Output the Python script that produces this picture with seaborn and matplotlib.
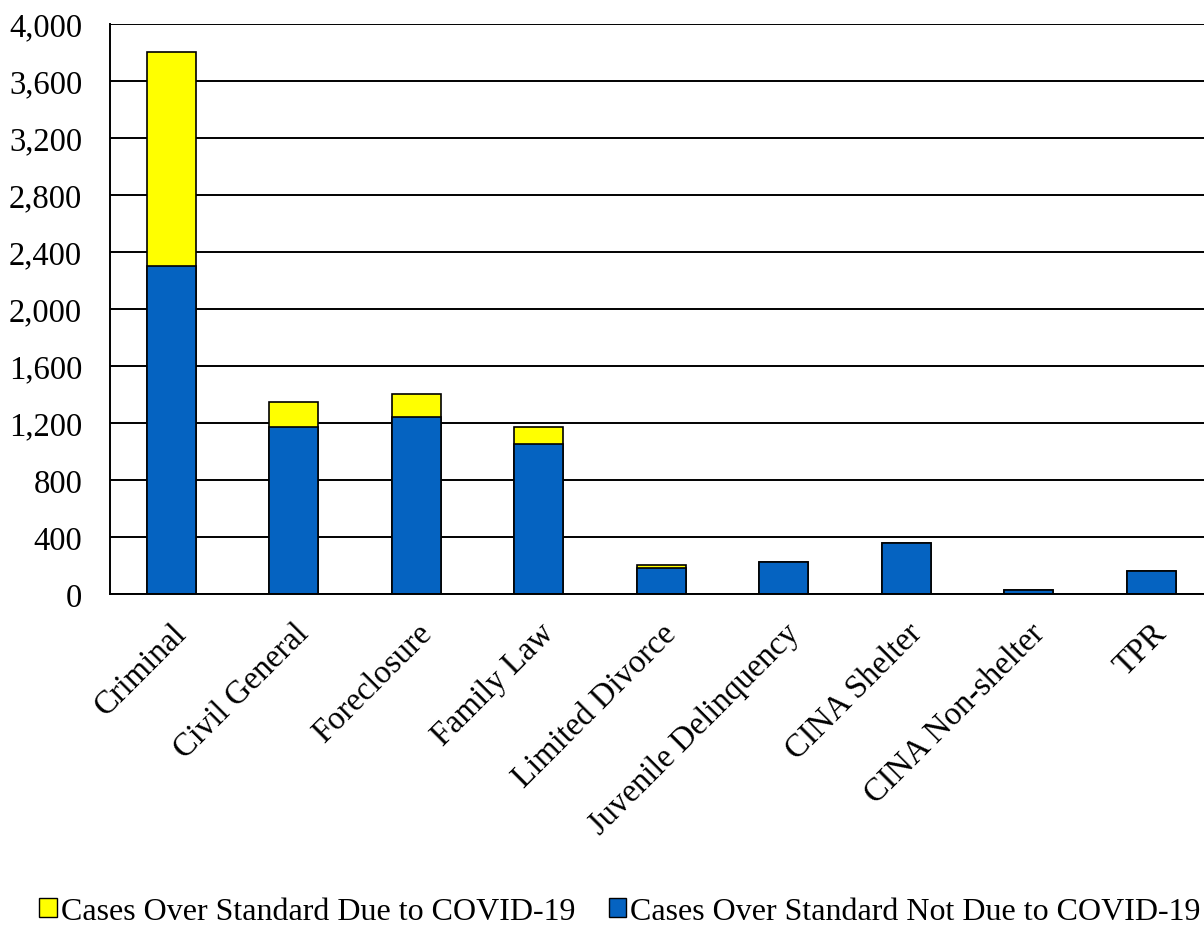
import matplotlib
matplotlib.use("Agg")
import matplotlib.pyplot as plt
from matplotlib.patches import Patch
from matplotlib.ticker import FuncFormatter, MultipleLocator
import pandas as pd
import seaborn as sns

categories = ["Criminal", "Civil General", "Foreclosure", "Family Law",
              "Limited Divorce", "Juvenile Delinquency", "CINA Shelter",
              "CINA Non-shelter", "TPR"]
not_due_covid = [2300, 1170, 1240, 1050, 185, 228, 360, 25, 160]
due_covid = [1500, 177, 164, 120, 18, 0, 0, 5, 0]

label_due = "Cases Over Standard Due to COVID-19"
label_not_due = "Cases Over Standard Not Due to COVID-19"
color_due = "#FFFF00"
color_not_due = "#0563C1"

df = pd.DataFrame({
    "category": categories,
    "not_due": not_due_covid,
    "due": due_covid,
})
df["total"] = df["not_due"] + df["due"]

sns.set_theme(style="white")
plt.rcParams["font.family"] = ["Liberation Serif", "DejaVu Serif"]
plt.rcParams["text.color"] = "black"

fig = plt.figure(figsize=(12.04, 9.28), dpi=100)
ax = fig.add_axes([110 / 1204, 1 - 595 / 928, 1 - 110 / 1204, (595 - 25) / 928])

# stacked bars: full total in yellow, the non-COVID part drawn over it in blue
sns.barplot(data=df, x="category", y="total", color=color_due, width=0.4,
            edgecolor="black", linewidth=1.2, saturation=1, ax=ax, zorder=3)
sns.barplot(data=df, x="category", y="not_due", color=color_not_due, width=0.4,
            edgecolor="black", linewidth=1.2, saturation=1, ax=ax, zorder=4)

ax.set_ylim(0, 4000)
ax.set_xlim(-0.5, 8.43)
ax.yaxis.set_major_locator(MultipleLocator(400))
ax.yaxis.set_major_formatter(FuncFormatter(lambda v, p: f"{int(v):,}"))
ax.grid(axis="y", color="black", linewidth=1.4, zorder=0)
ax.set_axisbelow(True)
for side in ["top", "right"]:
    ax.spines[side].set_visible(False)
for side in ["left", "bottom"]:
    ax.spines[side].set_color("black")
    ax.spines[side].set_linewidth(1.4)
    ax.spines[side].set_zorder(5)

ax.set_xlabel("")
ax.set_ylabel("")
ax.tick_params(axis="y", labelsize=23.5, length=0, pad=20, colors="black")
ax.tick_params(axis="x", labelsize=23.5, length=0, pad=17, colors="black")
for lbl in ax.get_xticklabels():
    lbl.set_rotation(45)
    lbl.set_ha("right")
    lbl.set_rotation_mode("anchor")

handles = [
    Patch(facecolor=color_due, edgecolor="black", linewidth=1.0, label=label_due),
    Patch(facecolor=color_not_due, edgecolor="black", linewidth=1.0, label=label_not_due),
]
fig.legend(handles=handles, loc="lower center", bbox_to_anchor=(0.515, -0.03),
           ncol=2, frameon=False, fontsize=23, handlelength=0.55,
           handleheight=0.55, handletextpad=0.12, columnspacing=1.05,
           labelcolor="black")

fig.savefig("out.png", dpi=100)
